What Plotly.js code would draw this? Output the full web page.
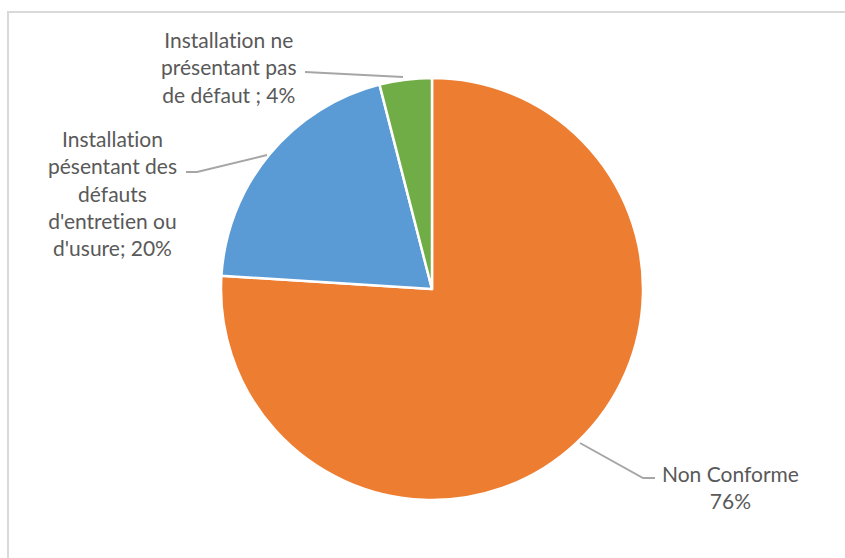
<!DOCTYPE html>
<html><head><meta charset="utf-8">
<script src="https://cdn.plot.ly/plotly-3.0.1.min.js"></script>
<style>html,body{margin:0;padding:0;background:#fff}#chart{width:845px;height:558px}
#chart text{font-variant-ligatures:none;font-feature-settings:"liga" 0}</style>
</head><body><div id="chart"></div>
<script>
var categories = ["Non Conforme", "Installation pésentant des défauts d'entretien ou d'usure", "Installation ne présentant pas de défaut"];
var values = [76, 20, 4];
var labelTexts = ["Non Conforme<br>76%", "Installation<br>pésentant des<br>défauts<br>d'entretien ou<br>d'usure; 20%", "Installation ne<br>présentant pas<br>de défaut ; 4%"];
var colors = ["#ED7D31", "#5B9BD5", "#70AD47"];

var W = 845, H = 558;
function px(x){ return x / W; }
function py(y){ return 1 - y / H; }
function pathPx(pts){
  return pts.map(function(p,i){ return (i?'L':'M') + px(p[0]) + ',' + py(p[1]); }).join(' ');
}
var cx = 432, cy = 289, R = 211;

var trace = {
  type: 'pie',
  labels: categories,
  values: values,
  sort: false,
  direction: 'clockwise',
  rotation: 0,
  textinfo: 'none',
  hoverinfo: 'label+percent',
  marker: {colors: colors, line: {color: '#ffffff', width: 2.5}},
  domain: {x: [px(cx - R), px(cx + R)], y: [py(cy + R), py(cy - R)]},
  showlegend: false
};

var labelPos = [[730, 487], [112, 193], [229, 67]];
var annFont = {family: 'Lato, "Open Sans", sans-serif', size: 21, color: '#595959'};
var annotations = labelTexts.map(function(t, i){
  return {text: t, x: px(labelPos[i][0]), y: py(labelPos[i][1]), xref: 'paper', yref: 'paper',
          showarrow: false, xanchor: 'center', yanchor: 'middle', align: 'center', font: annFont};
});

var leaderStyle = {color: '#A6A6A6', width: 2};
var shapes = [
  {type: 'rect', xref: 'paper', yref: 'paper', x0: px(8), y0: -0.05, x1: 1.05, y1: py(12), line: {color: '#D9D9D9', width: 2}, layer: 'below'},
  {type: 'path', xref: 'paper', yref: 'paper', path: pathPx([[580, 443], [643, 478], [655, 478]]), line: leaderStyle},
  {type: 'path', xref: 'paper', yref: 'paper', path: pathPx([[186, 172], [197, 172], [267, 155]]), line: leaderStyle},
  {type: 'path', xref: 'paper', yref: 'paper', path: pathPx([[305, 72], [403, 77]]), line: leaderStyle}
];

var layout = {
  width: W, height: H,
  margin: {l: 0, r: 0, t: 0, b: 0},
  paper_bgcolor: '#ffffff',
  annotations: annotations,
  shapes: shapes,
  showlegend: false
};
Plotly.newPlot('chart', [trace], layout, {staticPlot: true, displayModeBar: false});
</script></body></html>
